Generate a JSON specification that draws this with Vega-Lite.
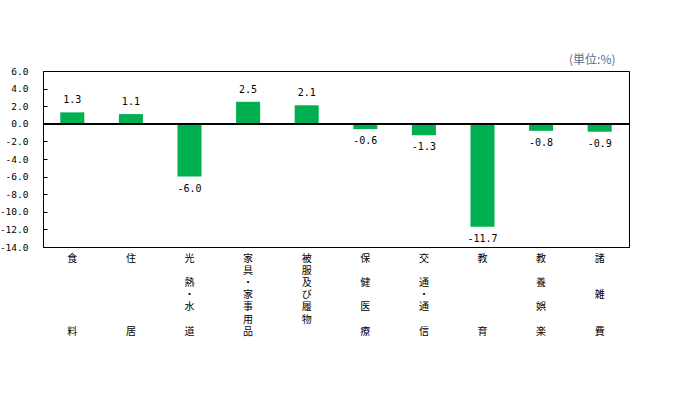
{
  "$schema": "https://vega.github.io/schema/vega-lite/v6.json",
  "autosize": "none",
  "width": 586,
  "height": 176,
  "padding": {"left": 43, "top": 71, "right": 46, "bottom": 146},
  "background": "white",
  "config": {
    "view": {"stroke": "black", "strokeWidth": 1},
    "font": "Noto Sans CJK JP"
  },
  "title": {
    "text": "(単位:%)",
    "anchor": "end",
    "fontSize": 12,
    "fontWeight": "normal",
    "color": "#5b6b8c",
    "font": "Noto Sans CJK JP",
    "offset": 0,
    "dy": 1,
    "dx": -14
  },
  "data": {
    "values": [
      {"category": "食料", "value": 1.3},
      {"category": "住居", "value": 1.1},
      {"category": "光熱・水道", "value": -6.0},
      {"category": "家具・家事用品", "value": 2.5},
      {"category": "被服及び履物", "value": 2.1},
      {"category": "保健医療", "value": -0.6},
      {"category": "交通・通信", "value": -1.3},
      {"category": "教育", "value": -11.7},
      {"category": "教養娯楽", "value": -0.8},
      {"category": "諸雑費", "value": -0.9}
    ]
  },
  "encoding": {
    "x": {
      "field": "category",
      "type": "nominal",
      "sort": null,
      "scale": {"paddingInner": 0.59, "paddingOuter": 0.295},
      "axis": {
        "title": null,
        "labelAngle": 0,
        "ticks": false,
        "domain": true,
        "domainColor": "black",
        "labelFont": "Noto Sans CJK JP",
        "labelFontSize": 10,
        "labelColor": "black",
        "labelLineHeight": 12.2,
        "labelBaseline": "top",
        "labelPadding": 6,
        "labelLimit": 0,
        "labelOverlap": false,
        "labelExpr": "{'食料':['食','\u2800','\u2800','\u2800','\u2800','\u2800','料'],'住居':['住','\u2800','\u2800','\u2800','\u2800','\u2800','居'],'光熱・水道':['光','\u2800','熱','・','水','\u2800','道'],'家具・家事用品':['家','具','・','家','事','用','品'],'被服及び履物':['被','服','及','び','履','物'],'保健医療':['保','\u2800','健','\u2800','医','\u2800','療'],'交通・通信':['交','\u2800','通','・','通','\u2800','信'],'教育':['教','\u2800','\u2800','\u2800','\u2800','\u2800','育'],'教養娯楽':['教','\u2800','養','\u2800','娯','\u2800','楽'],'諸雑費':['諸','\u2800','\u2800','雑','\u2800','\u2800','費']}[datum.value]"
      }
    },
    "y": {
      "field": "value",
      "type": "quantitative",
      "scale": {"domain": [-14, 6], "nice": false},
      "axis": {
        "title": null,
        "values": [-14, -12, -10, -8, -6, -4, -2, 0, 2, 4, 6],
        "labelExpr": "replace(format(datum.value, '.1f'), '−', '-')",
        "grid": false,
        "ticks": true,
        "tickSize": -4,
        "tickColor": "black",
        "tickWidth": 1,
        "domainColor": "black",
        "labelFont": "DejaVu Sans Mono",
        "labelFontSize": 9.5,
        "labelColor": "black",
        "labelPadding": 19,
        "labelOverlap": false,
        "labelSeparation": 0,
        "labelFlush": false
      }
    }
  },
  "layer": [
    {
      "mark": {"type": "bar", "color": "#00b050"}
    },
    {
      "mark": {"type": "rule", "color": "black", "strokeWidth": 1},
      "encoding": {"y": {"datum": 0}, "x": {"value": 0}, "x2": {"value": 586}}
    },
    {
      "transform": [{"filter": "datum.value >= 0"}],
      "mark": {"type": "text", "baseline": "bottom", "dy": -7, "fontSize": 10, "font": "DejaVu Sans Mono", "color": "black", "text": {"expr": "replace(format(datum.value, '.1f'), '−', '-')"}}
    },
    {
      "transform": [{"filter": "datum.value < 0"}],
      "mark": {"type": "text", "baseline": "top", "dy": 7, "fontSize": 10, "font": "DejaVu Sans Mono", "color": "black", "text": {"expr": "replace(format(datum.value, '.1f'), '−', '-')"}}
    }
  ]
}
